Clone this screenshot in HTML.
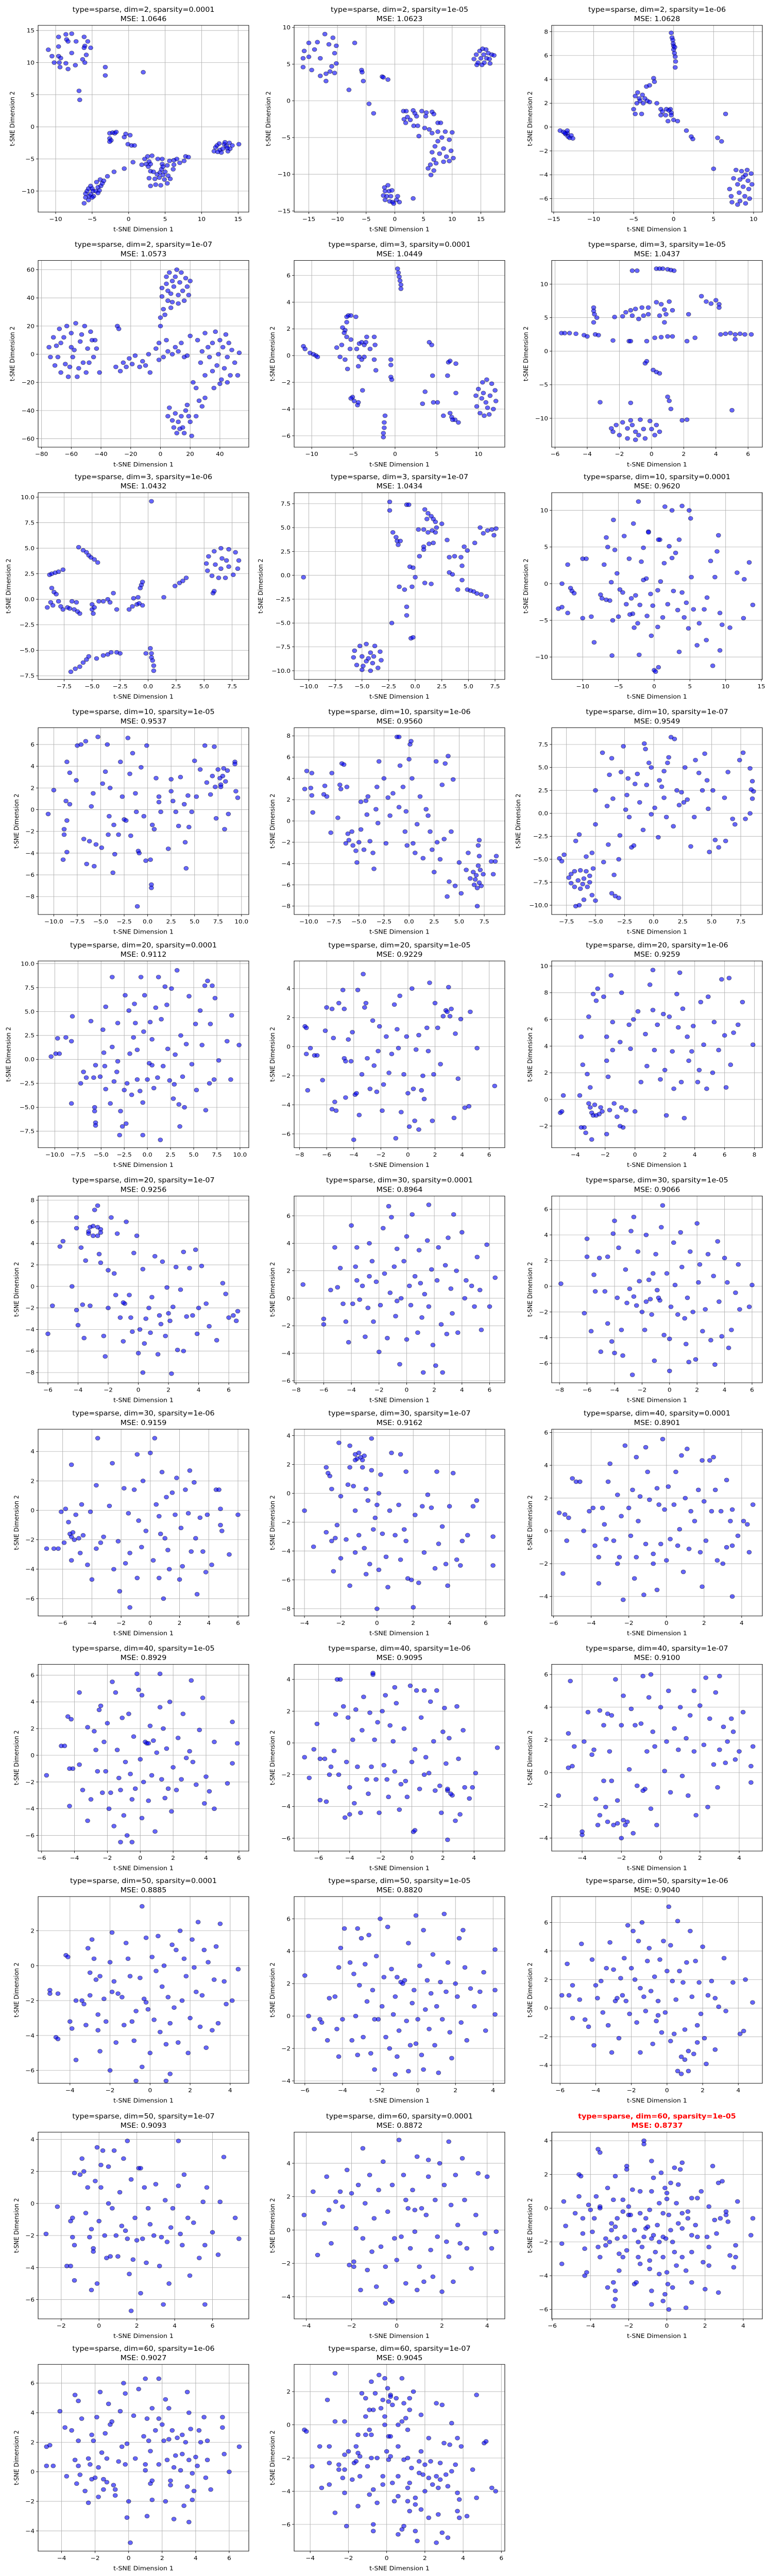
<!DOCTYPE html>
<html><head><meta charset="utf-8"><title>t-SNE sparse grid</title>
<style>
html,body{margin:0;padding:0;background:#fff;width:100%;height:100%;overflow:hidden;}
svg{display:block;position:fixed;left:0;top:0;width:100vw;height:100vh;font-family:"DejaVu Sans","Liberation Sans",sans-serif;}
</style></head>
<body>
<svg id="fig" xmlns="http://www.w3.org/2000/svg" viewBox="0 0 1489 5490" preserveAspectRatio="none">
<rect x="0" y="0" width="1489" height="5490" fill="#fff"/>
</svg>
<script>
const titles=["type=sparse, dim=2, sparsity=0.0001","type=sparse, dim=2, sparsity=1e-05","type=sparse, dim=2, sparsity=1e-06","type=sparse, dim=2, sparsity=1e-07","type=sparse, dim=3, sparsity=0.0001","type=sparse, dim=3, sparsity=1e-05","type=sparse, dim=3, sparsity=1e-06","type=sparse, dim=3, sparsity=1e-07","type=sparse, dim=10, sparsity=0.0001","type=sparse, dim=10, sparsity=1e-05","type=sparse, dim=10, sparsity=1e-06","type=sparse, dim=10, sparsity=1e-07","type=sparse, dim=20, sparsity=0.0001","type=sparse, dim=20, sparsity=1e-05","type=sparse, dim=20, sparsity=1e-06","type=sparse, dim=20, sparsity=1e-07","type=sparse, dim=30, sparsity=0.0001","type=sparse, dim=30, sparsity=1e-05","type=sparse, dim=30, sparsity=1e-06","type=sparse, dim=30, sparsity=1e-07","type=sparse, dim=40, sparsity=0.0001","type=sparse, dim=40, sparsity=1e-05","type=sparse, dim=40, sparsity=1e-06","type=sparse, dim=40, sparsity=1e-07","type=sparse, dim=50, sparsity=0.0001","type=sparse, dim=50, sparsity=1e-05","type=sparse, dim=50, sparsity=1e-06","type=sparse, dim=50, sparsity=1e-07","type=sparse, dim=60, sparsity=0.0001","type=sparse, dim=60, sparsity=1e-05","type=sparse, dim=60, sparsity=1e-06","type=sparse, dim=60, sparsity=1e-07"];
const mses=["1.0646","1.0623","1.0628","1.0573","1.0449","1.0437","1.0432","1.0434","0.9620","0.9537","0.9560","0.9549","0.9112","0.9229","0.9259","0.9256","0.8964","0.9066","0.9159","0.9162","0.8901","0.8929","0.9095","0.9100","0.8885","0.8820","0.9040","0.9093","0.8872","0.8737","0.9027","0.9045"];
const bestIndex=29;
const xDomains=[[-12.4,16.46],[-17.56,19.18],[-15.25,11.1],[-82.3,59.45],[-12.11,13.17],[-6.21,6.89],[-9.82,8.99],[-11.38,8.42],[-14.34,15.14],[-11.67,10.78],[-11.46,9.55],[-8.77,9.36],[-11.8,10.95],[-8.4,7.15],[-5.58,8.53],[-6.65,7.33],[-8.14,7.1],[-8.57,6.75],[-7.68,6.74],[-4.57,7.05],[-6.1,5.1],[-6.21,6.6],[-7.57,5.98],[-5.55,5.18],[-5.59,4.93],[-6.57,4.62],[-6.47,5.35],[-3.22,7.92],[-4.54,4.78],[-6.03,5.0],[-5.4,7.17],[-4.84,6.18]];
const yDomains=[[-13.27,15.8],[-15.16,10.29],[-7.13,8.53],[-66,66.6],[-6.85,7.12],[-14.3,13.53],[-7.85,10.44],[-10.91,8.66],[-13.06,12.41],[-9.65,7.54],[-8.79,8.76],[-11.01,9.32],[-9.22,10.28],[-6.95,5.9],[-3.62,10.38],[-8.95,8.39],[-6.15,7.44],[-7.52,7.03],[-7.18,5.51],[-8.5,4.44],[-5.19,6.2],[-7.17,6.81],[-6.81,4.95],[-4.79,6.62],[-6.74,3.96],[-4.15,7.37],[-5.26,7.81],[-7.2,4.45],[-5.33,5.87],[-6.56,4.51],[-5.37,7.27],[-7.61,3.64]];
const xTickSteps=[5,5,5,20,5,2,2.5,2.5,5,2.5,2.5,2.5,2.5,2,2,2,2,2,2,2,2,2,2,2,2,2,2,2,2,2,2,2];
const yTickSteps=[5,5,2,20,2,5,2.5,2.5,5,2,2,2.5,2.5,2,2,2,2,2,2,2,2,2,2,2,2,2,2,2,2,2,2,2];

const pts1=[[-11,12],[-10.5,11],[-10.2,10],[-9.6,14],[-9.6,12.5],[-9.6,11],[-9.5,10],[-9.3,10.7],[-9.4,9.3],[-8.6,14.4],[-8.5,13.6],[-8.3,13.3],[-8.6,9.9],[-8.3,9],[-7.8,14.5],[-7.8,11.5],[-7.2,13.3],[-7.3,9.6],[-6.1,14],[-6,12.6],[-6.1,12.3],[-5.6,13.3],[-5.2,12.3],[-5.8,11.2],[-6.3,10.5],[-6,10],[-3.2,9.3],[-3.2,8],[2,8.5],[-6.8,5.6],[-6.7,4.2],[-2.6,-1],[-2.2,-0.9],[-1.9,-1],[-1.7,-0.8],[-2.6,-1.8],[-2.4,-2.1],[-2.6,-2.3],[-0.6,-1.6],[-0.4,-1.1],[0.2,-1.3],[-0.1,-2.7],[0.4,-2.9],[0.8,-2.9],[11.7,-3.8],[11.9,-3.2],[12.1,-2.9],[12.4,-2.6],[12.5,-3.6],[12.7,-4],[12.9,-3.4],[13.1,-2.7],[13.2,-2.4],[13.4,-3],[13.6,-3.8],[13.8,-2.5],[13.9,-3.4],[14.2,-2.9],[15.1,-2.7],[12.2,-3.9],[13.5,-3.3],[1.8,-5.9],[2.2,-5],[2.6,-4.6],[3.2,-4.5],[2.4,-5.8],[2.7,-6.2],[2.8,-5.4],[3,-5.8],[0.6,-5.5],[3,-6.9],[3.4,-7],[3.9,-7.4],[4.3,-7.1],[4.5,-6.6],[4.6,-5.8],[4.7,-6.2],[4.7,-7.5],[5,-7],[4.9,-8.2],[5.4,-7.6],[5.7,-8.1],[5.3,-8.8],[3,-9.2],[3.7,-9],[4.4,-9.1],[2.8,-8],[3.6,-8.1],[4.2,-7.9],[4,-5],[4.6,-5],[5.3,-6],[5.6,-5.3],[6.2,-5.2],[6.2,-5.9],[6.1,-6.6],[6.6,-5],[7,-5.6],[7.6,-5.3],[7.8,-4.6],[8.2,-4.7],[-0.6,-6.5],[-2,-7],[-2.9,-7.7],[-6.1,-11.9],[-5.9,-11],[-5.5,-11.4],[-5.4,-10.8],[-5.9,-10.4],[-5.7,-10],[-5.5,-9.6],[-5.2,-9.2],[-5,-9.6],[-4.9,-10],[-5.2,-10.5],[-4.8,-10.8],[-4.5,-10],[-4.4,-8.6],[-4.2,-9.4],[-4,-9.9],[-3.9,-8.2],[-3.8,-9.2],[-3.6,-8.8],[-3.4,-8.4],[-5,-11],[-4.2,-10.3]];
const pts2=[[-16,5.8],[-15.8,6.8],[-16,4.6],[-15,7.9],[-15,6],[-14.5,4.2],[-14,7],[-13.5,8],[-13,5.8],[-13,3.4],[-12.2,9.1],[-12,3.7],[-12,2.7],[-11.5,7.7],[-11.3,4],[-11,4.7],[-10.8,8.6],[-10.5,6.5],[-10.5,3.8],[-10.2,7.5],[-10.2,5.1],[-7,7.9],[-5.8,4.2],[-5.7,3.9],[-5.5,2.7],[-8,1.5],[-2.2,3.3],[-2,3.2],[-1.2,2.9],[-4.5,-0.4],[-3.7,-1.7],[13.8,5.7],[14.2,6.3],[14.5,5.2],[14.8,6.8],[15,5.8],[15.3,7.1],[15.5,6.3],[15.6,5.2],[15.9,7],[16,5.8],[16.3,6.5],[16.6,5.1],[16.9,6.3],[17.3,6.2],[15.2,4.9],[16.5,5.7],[14.3,4.9],[1.5,-1.4],[2,-1.4],[1.6,-2.5],[2.2,-2.2],[1.9,-3],[2.7,-2.6],[3.2,-1.3],[3.5,-1.7],[3.8,-2.1],[3.3,-3.4],[4,-3.4],[4.2,-4.8],[4.7,-1.4],[5.5,-1.6],[5.4,-2.1],[6.5,-1.5],[6.8,-1.8],[7.5,-3],[8,-3],[5.2,-3.7],[6,-3.9],[6.5,-4.4],[7.5,-4.2],[8.8,-4.2],[10,-4.3],[8.2,-5],[9.5,-5.3],[7.5,-5.5],[7,-6.2],[8.5,-6.5],[9.8,-6.8],[6.5,-7],[7.8,-7.2],[9,-7.6],[10.2,-7.8],[6.8,-8],[6.2,-8.7],[7.2,-8.5],[8.5,-8.3],[9.5,-8.2],[5.8,-9.2],[6.8,-9.5],[6.3,-10.1],[-1.8,-11.8],[-1.2,-11.5],[-1.7,-12.3],[-1,-12.3],[-0.5,-12.2],[-2,-12.9],[-1.4,-13],[-0.7,-13],[-1.7,-13.5],[-0.9,-13.7],[-0.4,-13.8],[0.3,-13.5],[0.8,-13.8],[-0.2,-14],[0.5,-13],[3.2,-13.3]];
const pts3=[[-0.3,7.9],[-0.2,7.5],[-0.1,7.3],[-0.05,7],[0,6.8],[0,6.5],[0.1,6.2],[0.2,5.9],[0.25,5.5],[0.2,5],[0.15,6.7],[-14.2,-0.3],[-13.8,-0.4],[-13.5,-0.6],[-13.3,-0.5],[-13.2,-0.8],[-13,-0.9],[-12.8,-0.7],[-12.6,-0.95],[-13.6,-0.5],[-13.3,-0.3],[-4.8,1.1],[-5,1.5],[-4.8,2.6],[-4.5,2.9],[-4.3,2.4],[-4.6,2],[-4.2,2.2],[-3.8,2],[-3.9,2.7],[-3.6,2.4],[-3.4,3.4],[-3,3.5],[-2.5,4.1],[-2.4,3.8],[-3.3,2.2],[-3,2.1],[-4,1.1],[-2.1,2],[-1.6,1.5],[-1.4,1.3],[-0.9,1.5],[-0.4,1.5],[-0.3,1.2],[-0.6,1.4],[-1.6,1],[-1,1],[-0.3,1],[0,0.6],[-0.7,0.5],[0.5,0.5],[1.6,-0.3],[2.2,-0.8],[2.4,-1],[5.5,-0.9],[6,-1.2],[6.5,1.1],[5,-3.5],[7,-5.2],[7.2,-5.8],[7.5,-4.3],[7.8,-3.6],[8,-4.8],[8.2,-5.5],[8.3,-6.2],[8.5,-3.7],[8.7,-4.2],[8.7,-5],[8.9,-5.8],[9,-6.4],[9.2,-3.6],[9.3,-4.5],[9.4,-5.2],[9.5,-6],[9.7,-3.9],[9.8,-4.8],[7.3,-6.3],[8,-6.5],[8.3,-4.4],[9,-4]];
const pts4=[[-75,5],[-74,-2],[-72,12],[-71,-8],[-70,6],[-69,-2],[-68,18],[-67,-13],[-65,12],[-64,-7],[-63,20],[-62,-16],[-61,-9],[-60,15],[-59,-2],[-58,3],[-57,22],[-56,-16],[-55,-10],[-54,9],[-53,14],[-52,-6],[-51,20],[-50,-13],[-49,4],[-48,-6],[-47,16],[-46,10],[-45,-2],[-44,10],[-43,4],[-41,-13],[-67,8],[-60,5],[-30,-9],[-29,20],[-28,18],[-27,-12],[-25,-6],[-23,-9],[-21,-3],[-19,-7],[-17,-1],[-14,-9],[-12,-5],[-10,-8],[-8,0],[-7,-13],[0,20],[0,26],[1,47],[1,41],[2,32],[3,28],[4,55],[4,50],[5,38],[5,45],[6,58],[7,33],[7,43],[8,52],[8,37],[9,48],[10,55],[11,60],[12,42],[12,36],[13,51],[14,58],[15,45],[16,38],[17,54],[18,48],[19,42],[20,52],[-1,8],[-3,4],[20,13],[25,10],[27,-6],[30,15],[32,5],[33,-2],[35,8],[35,-12],[37,16],[38,-8],[39,0],[40,10],[41,-18],[42,5],[43,-10],[44,14],[45,-2],[46,8],[47,-15],[48,3],[50,-6],[52,-15],[53,1],[28,2],[30,-15],[36,-24],[40,-21],[45,-20],[24,-24],[22,-20],[26,-33],[28,-37],[30,-31],[24,-44],[10,-42],[12,-48],[14,-44],[15,-52],[17,-40],[19,-44],[20,-48],[21,-58],[8,-47],[9,-52],[11,-56],[13,-53],[16,-56],[18,-36],[5,-44],[6,-38],[2,-2],[5,2],[8,0],[10,5],[12,2],[16,-2],[18,-1],[14,8],[4,10],[-1,-4]];
const pts5=[[0.3,6.5],[0.4,6.2],[0.5,5.9],[0.6,5.6],[0.7,5.3],[0.7,5],[-11,0.7],[-10.8,0.5],[-10.2,0.2],[-9.8,0.1],[-9.5,0],[-9.3,-0.1],[-7,0.6],[-6.6,-0.1],[-6.4,0.8],[-6,-0.3],[-6.3,2.1],[-6,1.9],[-5.8,2.5],[-5.6,3],[-5.3,3],[-5.8,2.9],[-6.1,1.7],[-4.7,2.9],[-5.8,1.4],[-5.3,1.2],[-5.4,0.5],[-4.6,0.5],[-4.3,0.9],[-4.3,-0.1],[-4,1],[-3.7,0.8],[-3.4,1.4],[-3.5,1],[-3,0.5],[-2.5,1.4],[-2.4,0.8],[-2.5,-0.3],[-3.7,-0.1],[-4,-0.3],[-4.4,-0.8],[-2.3,-1.1],[-5.7,-1],[-5.1,-3.1],[-5.3,-3.2],[-4.9,-3.4],[-4.5,-3.7],[-4.4,-3.5],[-3.9,-2.6],[-0.5,-0.3],[-0.5,-0.7],[-0.5,-1.6],[-0.4,-1.8],[-1.2,-4.5],[-1.3,-5],[-1.3,-5.4],[-1.4,-5.8],[-1.4,-6.1],[4.1,1],[4.4,0.8],[3.6,-2.7],[4.5,-1.5],[4.6,-3.5],[3.3,-3.6],[5.1,-3.5],[6.4,-0.5],[6.6,-0.4],[7.3,-0.6],[6.3,-1.5],[7.3,-2.8],[5.8,-4.5],[6.6,-4.3],[6.8,-4.6],[7.2,-4.8],[7.6,-5],[6.9,-4.8],[9.7,-3],[9.8,-3.8],[10,-2.5],[10.2,-4.3],[10.5,-2],[10.7,-4.5],[11,-1.8],[11.3,-4.4],[11.6,-2.1],[11.8,-4],[12,-2.6],[12.1,-3.4],[10.4,-3.2],[10.9,-3.5],[11.4,-3],[11.1,-3.9],[10.6,-2.8]];
const pts6=[[-1.2,12],[-0.9,12],[0.3,12.3],[0.5,12.3],[0.7,12.3],[1,12.2],[1.2,12.1],[1.4,12],[-5.6,2.7],[-5.4,2.7],[-5.1,2.7],[-4.7,2.6],[-4.2,2.4],[-4,2.2],[-3.5,2.5],[-3.3,2.4],[-3.6,6.5],[-3.6,6],[-3.55,5.5],[-3.4,5],[-3.6,4.3],[-2.3,5.1],[-1.8,5.2],[-1.6,5.8],[-1.3,6.1],[-1,6.3],[-0.6,6.5],[-0.2,6.5],[0.3,7.3],[0.6,7],[0.8,6.2],[0.9,5.5],[1.3,6.1],[1.1,7.4],[0.5,5.3],[-0.5,5.3],[-0.2,5.5],[0.8,4.3],[-1.2,5.3],[-0.8,4.8],[2.3,5.5],[3.1,8.2],[3.4,7.4],[3.7,7.1],[4,7.6],[4.2,7],[4.2,6.5],[-2.4,1.6],[-1.4,1.5],[-1.3,1.5],[-0.3,1.5],[0.2,2],[0.6,2.1],[1,2.2],[1.3,2.2],[2.2,1.5],[2.7,2],[4.3,2.5],[4.6,2.6],[4.9,2.7],[5.2,2.5],[5.5,2.6],[5.8,2.5],[6.2,2.5],[5.2,1.8],[-0.4,-1.8],[-0.3,-1.5],[0.1,-2.8],[0.3,-3.1],[0.5,-3.3],[-3.2,-7.6],[-1.3,-7.7],[1,-6.8],[1.1,-7.4],[1.2,-8.6],[5,-8.8],[1.9,-10.3],[2.2,-10.2],[-2.5,-11.5],[-2.4,-12],[-2.2,-11],[-2,-12.5],[-1.8,-10.6],[-1.5,-13],[-1.3,-10.3],[-1,-13.2],[-0.7,-10.2],[-0.4,-13],[-0.1,-10.4],[0.2,-12.5],[0.3,-11],[0.5,-12],[-1.5,-11.5],[-1,-12],[-0.5,-11.6],[-1.2,-11],[-0.8,-12.5],[0,-11.6]];
const pts7=[[0.3,9.6],[-6.2,5.1],[-5.8,4.8],[-5.5,4.6],[-5.3,4.3],[-5.1,4.1],[-4.8,3.9],[-4.5,3.6],[-8.8,2.4],[-8.6,2.5],[-8.3,2.6],[-8,2.7],[-7.6,2.9],[-8.6,1.1],[-8.4,0.7],[-8.2,0.5],[-9,-0.8],[-8.7,-0.3],[-8.5,-0.6],[-8,-0.2],[-7.8,-0.7],[-7.6,-1],[-7.2,-0.8],[-6.8,-0.2],[-6.4,-0.3],[-7,-0.9],[-6.6,-1],[-6.3,-1.2],[-6.1,-1.4],[-5,-0.5],[-5,-1],[-4.9,-1.4],[-4.8,-0.8],[-4.4,-0.2],[-4,-0.2],[-3.6,0],[-3.4,-0.3],[-3.1,0.6],[-2.8,-1],[-1.7,-1],[-1.4,-0.7],[-1.3,0.1],[-1,-0.5],[-0.8,-0.4],[-0.9,0.2],[-0.5,-0.6],[-0.6,1.4],[-0.5,1.7],[-0.7,1.1],[1.4,0.2],[2.4,1.3],[2.8,1.6],[3.1,1.8],[3.4,2.1],[5.2,3.5],[5.3,2.8],[5.4,4.2],[5.7,2.3],[5.9,4.7],[6.3,2.1],[6.5,5],[6.9,2.1],[7.2,4.9],[7.6,2.4],[7.8,4.6],[8,3],[8.1,3.8],[6,3.4],[6.5,3],[7,3.8],[6.6,4],[7.2,3.2],[5.8,0.6],[5.9,0.8],[-6.9,-7.1],[-6.5,-6.8],[-6.1,-6.6],[-5.8,-6.2],[-5.5,-5.9],[-5.3,-5.6],[-4.6,-5.8],[-4,-5.5],[-3.6,-5.4],[-3.3,-5.2],[-2.8,-5.2],[-2.5,-5.3],[0.2,-4.8],[0.3,-5.3],[0.3,-5.7],[0.4,-6],[0.5,-6.5],[0.5,-7],[-0.2,-5.3]];
const pts8=[[-10.5,-0.2],[-2.4,7.7],[-2.4,6.8],[-0.8,7.4],[-0.6,7.4],[0.9,6.9],[1.2,6.5],[1.5,6.2],[1.7,5.9],[1.9,5.6],[1.1,5.9],[0.3,4.8],[0.8,4.8],[1.2,4.5],[1.6,4.7],[2,5],[1.9,4.5],[2.5,5.4],[3,3.7],[0.8,3],[1.3,3.3],[1.7,3.4],[0.8,2.7],[0.4,2],[3.2,1.9],[3.7,2],[4.3,1.9],[4.6,3],[4.9,2.6],[5.6,3.4],[6.1,5],[6.4,4.4],[6.8,4.7],[7.2,4.8],[7.6,4.9],[7.4,4.2],[-2.1,4.5],[-1.8,4],[-1.7,3.6],[-1.6,3.2],[-1.4,3.6],[-0.5,0.9],[-0.2,0.8],[0,-0.2],[-0.3,-1.2],[-1,-1.5],[0.9,-0.8],[1.5,-0.9],[-1.5,-1.2],[3.2,0.3],[3.5,0.1],[4.4,1],[4.4,-0.5],[4.9,-1.5],[5.2,-1.6],[5.5,-1.7],[5.8,-1.9],[6.2,-2],[6.7,-2.2],[4,-1.5],[-0.8,-3.3],[-0.8,-4.2],[-2.2,-5],[-0.4,-6.6],[-0.2,-6.5],[-5.8,-8.6],[-5.7,-7.9],[-5.5,-9.4],[-5.2,-7.4],[-5,-9.9],[-4.6,-7.2],[-4.2,-10],[-3.8,-7.4],[-3.5,-9.7],[-3.3,-8],[-3.2,-8.9],[-5,-8.5],[-4.6,-9],[-4.2,-8.1],[-4.4,-8.7],[-4,-9.2],[-4.9,-9.5],[-3.9,-8.5]];
const pts9=[[-12.9,0],[-13.4,-3.4],[-12.9,-3.2],[-12.1,2.6],[-11.7,-0.6],[-11.5,-1],[-11.2,-1.3],[-12.1,-4],[-10,3.4],[-9.5,3.4],[-10,-4.7],[-8.8,-4.5],[-8.4,-8],[-7.5,-1.5],[-7.3,-2],[-6.7,-2.2],[-7,2.6],[-6.7,6.3],[-6.5,5],[-6,0.2],[-6.2,-2.3],[-5.8,-5],[-5.9,-9.8],[-5.7,8.7],[-5.5,4.6],[-5.2,1.4],[-5,-4.5],[-4.8,-0.8],[-4.4,-1.2],[-4.2,6.5],[-3.9,-2.8],[-3.5,3.4],[-3.2,-2],[-3,-4.1],[-2.9,8.2],[-2.8,-6],[-2.6,-1.6],[-2.3,-5.4],[-2.2,11.2],[-2.1,-9.7],[-2,-2.9],[-1.8,3],[-1.5,4.9],[-1.1,0.7],[-1,-4.4],[-0.8,7.1],[-0.5,-1.4],[-0.4,-7.1],[0,-11.8],[0.2,-12],[0.5,-0.9],[0.5,-5.9],[0.6,-11.4],[0.8,6],[0.9,0.3],[1.2,-4.6],[1.4,2.8],[1.9,-2.8],[2.1,5.1],[2.5,3.5],[2.7,-1],[3,4.2],[3.3,-3.6],[3.5,-9.3],[3.9,-1.2],[4.2,-4.6],[4.5,-2.6],[4.8,-6.1],[5.1,8.9],[5.2,0.9],[5.5,-3.5],[6,-8.4],[6.3,-5.4],[7,-3.5],[7.4,-1.9],[7.3,-7.7],[7.9,3.1],[8.5,0.9],[8.8,4.4],[9,6.6],[9.2,-4],[9.2,-9.1],[9.5,-5.6],[10.6,-6],[11.6,1.5],[12.6,0.6],[13.3,2.9],[13.8,-2.9],[12.5,-4.7],[8.2,-11.2],[1.5,10.5],[2.5,10],[3.9,10.6],[4.9,10],[0.6,6],[-0.8,7],[3.5,6],[-1.5,0.5],[-3.4,-4.2],[-0.2,-3]];
const pts10=[[-10.6,-0.4],[-10,1.8],[-8.6,4.4],[-8.3,3.4],[-8.7,0.8],[-8.3,0.5],[-8.6,-1],[-8.9,-2.3],[-8.9,-1.8],[-8.6,-3.9],[-9,-4.6],[-7.6,2.7],[-7.5,5.9],[-7.1,6],[-6.6,6.3],[-6.8,-2.7],[-6.5,-5],[-6.2,-2.9],[-6,0.3],[-5.8,1.5],[-5.7,-5.2],[-5.5,-3.2],[-5.3,6.7],[-4.9,-3.5],[-4.8,2.4],[-4.5,3.5],[-4.2,-2.3],[-4.3,6],[-4.1,-0.6],[-4,2],[-3.7,-5.8],[-3.5,-4.1],[-3.6,-1.4],[-3.1,-2.3],[-2.9,4.4],[-2.7,1.2],[-2.5,-0.9],[-2.3,-1],[-2.1,6.6],[-1.9,3.3],[-1.8,-2.4],[-1.6,5.2],[-1.3,1.5],[-1.2,-0.2],[-1.1,-8.9],[-1,-3.8],[-0.7,3.9],[-0.4,-0.6],[-0.1,5.9],[-0.2,-4.7],[0.3,-4.6],[0.4,-6.9],[0.4,-7.2],[0.5,-1.4],[0.7,-1.8],[0.9,2.9],[1.2,1.2],[1.4,-0.2],[2.2,-3.6],[2.5,2.8],[2.5,1.7],[3,-0.2],[3.5,3],[3.3,-1.5],[3.9,0.5],[4,-3],[4.1,-5.4],[4.3,1.3],[4.4,-1.6],[4.7,-0.2],[5,4.5],[5.2,1.2],[5.6,3.7],[6.1,5.9],[6.3,2.5],[6.7,1.4],[6.9,3.1],[7.1,5.8],[7.2,2.1],[7.3,-0.8],[7.5,3.7],[7.8,2.3],[8,3.1],[8.3,2.6],[8.5,3.6],[8.6,-0.4],[8.2,-1.8],[9.3,4.4],[9.4,1.7],[9.6,1.1],[9.3,4.2],[7.7,2.9],[8.1,3.8],[7.8,2.1],[2.7,0.8],[-0.9,-4],[1.2,0.7]];
const pts11=[[-10.2,4.7],[-9.7,4.5],[-10.4,3],[-9.8,3.1],[-9.7,2.4],[-9.6,0.8],[-8.4,3.3],[-8.5,2.5],[-8.2,2.3],[-7.7,4.5],[-7.8,-1.1],[-7.1,0.3],[-6.9,3.4],[-6.7,5.4],[-6.5,5.3],[-6.8,3],[-6.2,3.2],[-6.1,-1.2],[-6.3,-2.1],[-6,-1.8],[-5.7,-1],[-5.6,-2.3],[-5.3,-2.8],[-5.2,-3.9],[-5,-2],[-4.8,-0.8],[-4.5,-2.7],[-4.2,0.6],[-4.8,1.8],[-4.3,1.9],[-4.1,2.3],[-3.9,-1.9],[-3.6,-3],[-3.5,-4.5],[-3.3,1.1],[-3.2,3.2],[-3.1,-0.2],[-3,5.6],[-2.5,4],[-2.3,-2.1],[-2.1,2.2],[-1.9,0.5],[-1.6,2.6],[-1.2,7.9],[-1,7.9],[-1,1.3],[-0.9,5.2],[-0.6,3.2],[-0.4,-1],[-0.3,0.9],[-0.2,-2.3],[0,5.8],[0.1,7.2],[0.2,7.5],[0.3,4],[0.4,-2.1],[0.6,-3],[0.8,-0.3],[1.1,2.3],[1.4,-3.5],[1.7,1.1],[1.9,0.5],[2.1,-1],[2.3,-2.7],[2.5,-4.8],[2.7,5.6],[2.8,-2],[3.1,-3.6],[3.3,3.4],[3.5,-1.7],[3.6,5.4],[3.9,6.1],[3.8,-7.1],[4,-5.7],[4.2,-1],[4.4,3.9],[4.6,-6.1],[5,-3.9],[5.2,-6.8],[5.7,-4.6],[6.1,-5.4],[6.4,-4.8],[6.5,-6],[6.7,-5.1],[6.9,-4.2],[7,-5.8],[7.2,-6.1],[7.4,-5],[7.1,-4.6],[6.8,-6.3],[7,-1.8],[6.9,-2.3],[7,-3.3],[6.8,-8],[8.2,-3.8],[8.4,-5],[8.7,-3.3],[8.6,-3.8],[5.9,-3],[6.6,-5.5]];
const pts12=[[-7.3,-7],[-7.1,-6.6],[-7.1,-7.6],[-6.8,-6.3],[-6.8,-8],[-6.3,-6.2],[-6.3,-8.2],[-5.8,-6.3],[-5.7,-8],[-5.5,-6.8],[-5.5,-7.5],[-6.5,-7.3],[-6,-7.1],[-6.1,-7.7],[-8.1,-4.9],[-7.7,-4.5],[-7.9,-5.2],[-6.7,-10.1],[-6.4,-10],[-6,-9.4],[-5.3,-8.9],[-5,-9.5],[-5.2,-6],[-5.8,-4.7],[-6.4,-2.3],[-6.7,-3],[-5.3,-4.3],[-5,-1.2],[-5,2.5],[-4.3,-5.3],[-4.4,6.6],[-3.9,-3.4],[-4,0.8],[-3.8,4.2],[-3.6,6],[-3.5,1.6],[-3.4,-6.7],[-3.6,-8.7],[-3.3,-9],[-3,-9.2],[-3,-5],[-2.9,-2.4],[-2.8,4.5],[-2.6,7.3],[-2.4,0.4],[-2.3,2],[-2.2,3.8],[-1.9,-3.7],[-1.7,-3.5],[-1.6,3.2],[-1.4,4.3],[-1.2,1.2],[-0.9,-1.8],[-0.8,7.6],[-0.7,7],[-0.6,3.1],[-0.4,5.5],[-0.2,-0.1],[-0.2,5],[0.1,0.6],[0.4,-2.6],[0.5,3.6],[0.7,2.9],[0.9,4.6],[1.1,-0.4],[1.3,6.1],[1.5,8.3],[1.8,8.1],[1.7,-1.4],[2,2.5],[2.2,0.9],[2.4,2.3],[2.6,1.2],[2.7,5],[2.9,1.5],[3.2,-3.6],[3.5,-0.4],[3.9,4.4],[4.2,2.5],[4.4,6.5],[4.6,3.6],[4.7,0.5],[4.8,-4.2],[5.1,2.5],[5.3,-2.9],[5.6,-3.7],[6.1,1.7],[6.2,-3],[6.4,4.5],[6.8,-0.6],[7,-1.2],[7.4,5.8],[7.7,6.6],[7.9,-0.6],[8.3,0],[8.3,4.9],[8.5,3.5],[8.5,1.6],[8.6,2.4],[8.4,2.6],[-2.1,-0.4],[1.2,5.5],[3.6,5.8],[0.9,1.7]];
const pts13=[[-10.4,0.3],[-9.9,0.6],[-9.5,0.6],[-9.7,2.2],[-8.8,2.3],[-8.2,1.9],[-8.2,-4.6],[-8.1,4.5],[-7.2,-2.5],[-6.9,-1.3],[-6.6,-1.9],[-6.1,4],[-5.8,-1.9],[-5.6,-0.6],[-5.7,-5],[-5.7,-5.4],[-5.6,-6.6],[-5.6,-6.9],[-5.1,-1.8],[-4.8,3.1],[-4.7,0.7],[-4.6,-0.7],[-4.5,-3.1],[-4.5,5.5],[-4,-4.6],[-3.8,8.6],[-3.8,1.3],[-3.6,-2.3],[-3.3,-1.3],[-3.2,-0.2],[-3.2,3.8],[-3,-7.9],[-2.9,-5.4],[-2.7,-7],[-2.5,-3.2],[-2.3,-6.7],[-2.4,6.7],[-2.2,-2.5],[-2,5.1],[-1.9,0.6],[-1.7,-3.7],[-1.4,5.8],[-1.3,3.8],[-1.1,-2.1],[-1.1,1],[-0.8,-3.3],[-0.7,8.6],[-0.5,-4.5],[-0.5,-7.9],[-0.4,2.9],[-0.3,6.7],[0,-2.1],[0.2,-0.4],[0.3,3.9],[0.5,2.1],[0.7,-3],[0.9,5.4],[1.1,-1.9],[1.2,8.6],[1.4,-8.4],[1.5,4.2],[1.7,-0.7],[1.9,7.6],[2.1,5.7],[2.2,1.1],[2.4,-2.2],[2.6,7.4],[2.8,-4.1],[3,0.5],[3.2,9.3],[3.4,-4.7],[3.5,-7],[3.6,2.5],[3.8,-1.8],[4,-5],[4.2,1.6],[4.5,6.6],[4.8,-0.5],[5.2,3.7],[5.3,-3.2],[5.7,5.1],[5.9,1.5],[6.2,7.7],[6.3,-5.3],[6.5,8.2],[6.7,-2.5],[6.8,3.7],[7,7.7],[7.2,-2.1],[7.3,6.4],[7.7,-0.1],[8.6,1.9],[9,-2.1],[9.1,4.6],[9.9,1.5],[0.5,-0.6],[-1.5,2.3],[2.9,-2.6]];
const pts14=[[-7.6,1.4],[-7.5,1.3],[-7.5,-0.5],[-7.2,-0.1],[-7.4,-3],[-6.9,-0.6],[-6.7,-0.6],[-6.3,-2.3],[-6.1,1.1],[-6,2.7],[-5.5,0.6],[-5.6,2.6],[-5.6,-4.3],[-5.4,-3.8],[-5.3,-4.4],[-5.1,3],[-4.8,3.9],[-4.7,2.6],[-4.6,-3.5],[-4.7,-0.8],[-4.6,-1],[-4.4,0.5],[-4.2,-1],[-4.1,1],[-4,-6.4],[-3.9,-3.3],[-3.8,-3.2],[-3.7,3.9],[-3.6,-4.7],[-3.4,-1.9],[-3.3,5],[-3.2,2.7],[-3.1,3],[-3,-0.8],[-2.8,-2.9],[-2.5,-1.3],[-2.3,-3.1],[-2.2,-0.3],[-2.1,1.4],[-1.9,-4.4],[-1.8,-2.6],[-1.6,0.7],[-1.4,-1.8],[-1.2,-0.5],[-1,2.9],[-0.9,-6.3],[-0.8,1.2],[-0.7,-0.1],[-0.6,3.5],[-0.5,-4.5],[-0.3,-1.9],[-0.1,0.7],[0,-3.2],[0.1,-5.5],[0.3,4],[0.4,-2.9],[0.5,-5.1],[0.6,-0.2],[0.8,-5.7],[1,-3],[1.1,-2],[1.2,-3.6],[1.4,1.3],[1.5,-0.3],[1.6,4.4],[1.8,-5.1],[1.9,-1.9],[2,3],[2.2,1.3],[2.4,-1.2],[2.6,2.1],[2.8,2.5],[3,4.1],[3.2,2.6],[3.4,-4.9],[3.5,0.9],[3.7,-2.2],[3.9,1.9],[4.2,-4.2],[4.5,-4.1],[4.6,2.4],[5.1,-0.1],[6.4,-2.7],[2.9,2.4],[3.1,2.1],[0.8,0.8],[-2.6,1.8]];
const pts15=[[-3,-0.6],[-2.9,-1],[-2.8,-1.2],[-2.6,-1.2],[-2.4,-1.1],[-2.2,-0.9],[-2.7,-0.4],[-2.3,-0.6],[-5,-1],[-4.8,0.3],[-3.6,4.7],[-3.5,2.6],[-3.4,-2.1],[-3.3,-2.5],[-3.2,1.9],[-3.1,-0.3],[-3,0.9],[-3.1,6.2],[-2.8,7.9],[-2.6,7.4],[-2.5,8.3],[-2.1,7.7],[-1.9,4.7],[-1.9,2.9],[-1.8,1.7],[-1.9,-2.6],[-1.7,-0.8],[-1.6,9.3],[-1.5,5.8],[-1.5,3.7],[-1.4,-0.3],[-1.2,-1.3],[-1,4.3],[-0.9,8],[-0.8,-2.1],[-0.6,-0.8],[-0.4,5.6],[-0.3,3.8],[-0.1,6],[0,-0.9],[0.2,6.6],[0.4,1.3],[0.7,4.9],[0.8,2.5],[1,8.6],[1.2,6.7],[1.2,9.7],[1.3,3.7],[1.5,5.6],[1.7,1.5],[1.9,6.4],[2,2.2],[2.1,-1.2],[2.3,6.2],[2.5,3.6],[2.6,0.8],[2.8,7.9],[2.9,5.4],[3,9.5],[3.1,1.3],[3.2,6.8],[3.3,-1.4],[3.5,4.7],[3.6,2.9],[3.8,3.6],[3.9,5.5],[4.2,1.3],[4.3,2.2],[4.4,7.3],[4.6,4.1],[4.8,0.8],[4.9,7.7],[5.2,2],[5.3,5.8],[5.6,3.7],[5.8,9],[6,4.8],[6.1,0.9],[6.3,9.1],[6.4,2.6],[6.6,5],[6.9,5.6],[7.2,7.3],[7.9,4.1],[-3.7,0.3],[-4.9,-0.9],[-0.9,-0.6],[-1,-2],[-2.9,-3],[-3.6,-2.1]];
const pts16=[[-3.3,5.1],[-3.2,5.5],[-3,5.6],[-2.7,5.5],[-2.5,5.3],[-2.5,5],[-2.7,4.7],[-3,4.7],[-3.3,4.9],[-6,-4.4],[-5.7,-1.8],[-5.2,3.7],[-5,4.2],[-4.4,0],[-4.1,-2.2],[-4,-3.6],[-4.1,5.4],[-4.1,6.4],[-3.8,3.6],[-3.7,-1.7],[-3.6,-4.8],[-3.5,2.4],[-3.2,-1.8],[-2.9,7.1],[-2.7,7.5],[-2.6,3],[-2.5,2.2],[-2.3,-4.6],[-2.2,-6.5],[-2,1.5],[-2,-2],[-1.8,6.4],[-1.6,1.2],[-1.5,-0.8],[-1.4,4.9],[-1.2,-2.9],[-1,-5.1],[-0.9,-1.6],[-0.8,6],[-0.6,-0.8],[-0.4,-4.2],[-0.3,3.1],[-0.1,4.7],[0,-6.2],[0.1,-4],[0.3,1.6],[0.4,-5.3],[0.5,-3],[0.7,-2],[0.8,-4.3],[0.9,-1],[1.1,2.8],[1.3,-6.3],[1.4,-2.7],[1.6,2.3],[1.8,-4.6],[1.9,-0.1],[2.1,-3.2],[2.2,-8.1],[2.3,-1.9],[2.5,1.8],[2.6,-5.9],[2.8,-0.3],[3,3.2],[3,-6],[3.2,-2.8],[3.4,1.7],[3.6,-2.7],[3.8,3.4],[3.9,-4.4],[4,-2],[4.2,1.9],[4.5,-1.6],[4.7,-3.7],[5.2,-5],[5.6,0.3],[5.8,-0.7],[6,-2.9],[6.3,-2.7],[6.6,-2.3],[6.5,-3.2],[0.3,-8],[-1,-1.5],[2,-2.5],[1.5,-3.5],[-0.5,-2.9]];
const pts17=[[-7.5,1],[-6,-1.5],[-6,-1.9],[-5.5,0.6],[-5.2,3.7],[-5,0.8],[-4.8,2.2],[-4.6,-0.4],[-4.4,-1.7],[-4.2,-3.2],[-4,5.3],[-3.9,-0.4],[-3.7,2.3],[-3.6,1.3],[-3.6,3.7],[-3.4,-0.1],[-3.2,0.9],[-3,-2.8],[-2.8,-0.7],[-2.7,4],[-2.5,2.7],[-2.4,-1.7],[-2.2,1.2],[-2,-3.9],[-1.9,-0.5],[-1.7,5.1],[-1.6,1.8],[-1.4,-2.9],[-1.2,0.4],[-1.1,5.9],[-0.9,2.3],[-0.8,-1.3],[-0.7,3.6],[-0.5,-4.8],[-0.4,0],[-0.2,2.7],[0,4.5],[0,-3],[0.2,0.9],[0.3,-0.5],[0.4,6.1],[0.6,1.6],[0.8,-2.5],[0.9,3.5],[1.1,-1.4],[1.2,-5.4],[1.3,0.3],[1.5,4.2],[1.6,-0.6],[1.8,2.1],[1.9,-3.4],[2.1,-4.9],[2.2,1.3],[2.3,3.7],[2.5,-1.9],[2.6,-5.4],[2.8,2.4],[2.9,-2.6],[3,4.4],[3.2,0.7],[3.3,-1.1],[3.4,6.1],[3.6,2],[3.7,-2.5],[4,4.8],[4.2,0],[4.3,1.3],[4.7,0.9],[4.9,-0.6],[5.1,3],[5.3,0.6],[5.4,-2.3],[5.8,3.9],[6,-0.6],[6.4,1.5],[1.6,6.8],[-1.3,6.7],[-0.7,-0.2],[1,1.1],[-2.7,1.6]];
const pts18=[[-7.9,0.2],[-6.2,-2.1],[-6,2.3],[-6,3.7],[-5.7,-3.5],[-5.5,0.9],[-5.4,-0.4],[-5.1,2.2],[-5,-5.1],[-4.7,-0.4],[-4.5,2.3],[-4.5,-2.9],[-4.2,-4.3],[-4.1,4.1],[-4,5.1],[-4,-5.2],[-3.8,-0.9],[-3.7,3],[-3.5,-3.4],[-3.4,-5.4],[-3.2,1.3],[-3.1,-1.3],[-2.9,-0.2],[-2.8,4.3],[-2.6,-0.8],[-2.6,5.4],[-2.4,-1.5],[-2.3,2.7],[-2.2,0.4],[-2,-2],[-1.8,-3.4],[-1.7,4],[-1.5,0.5],[-1.3,-2.2],[-1.2,1],[-1.1,-5.8],[-1,2.5],[-0.9,-0.3],[-0.7,-1.1],[-0.6,4.6],[-0.5,6.3],[-0.4,-3.8],[-0.2,1],[0,-4.1],[0,-6.6],[0.1,-1.6],[0.3,3.4],[0.4,0.1],[0.6,-2.2],[0.8,4.2],[0.9,1.5],[1.1,-2.5],[1.3,-0.9],[1.4,-5.9],[1.5,2.7],[1.7,-2],[1.9,-5.7],[2,4.9],[2.1,0.3],[2.2,1.7],[2.4,-3.5],[2.6,-1.8],[2.8,2.5],[3,-4.2],[3.2,0.8],[3.3,-6.1],[3.5,3.5],[3.6,-1.2],[3.8,-3.9],[4,2.2],[4.2,0.3],[4.3,-4.8],[4.5,-3.4],[4.8,-0.5],[5,1.7],[5.1,-1.8],[5.8,-1.6],[6,0.1],[-2.7,-6.9],[-1.4,-1],[1.2,-4.5],[-0.8,-0.9],[-1.7,-1.2]];
const pts19=[[-7.1,-2.6],[-6.6,-2.6],[-6.3,-2.6],[-6.1,-0.1],[-5.8,0.1],[-5.9,-2.2],[-5.6,-0.8],[-5.5,-1.6],[-5.4,-1.8],[-5.3,-1.5],[-5.2,-2],[-5.1,-0.3],[-4.9,-1.9],[-5.4,3.1],[-5.4,-3.4],[-4.7,0.4],[-4.8,-2.9],[-4.6,-1.7],[-4.3,-3.7],[-4,-4.7],[-4.1,-0.1],[-3.7,1.7],[-3.7,-2.6],[-3.6,4.9],[-3.4,-2.2],[-3.2,-1.8],[-2.8,0.3],[-2.6,3.2],[-2.5,-4],[-2.2,-2.1],[-2.1,-5.5],[-1.8,1.5],[-1.7,-3.6],[-1.5,-0.2],[-1.4,-2.9],[-1.4,-6.6],[-1.1,1.4],[-0.9,3.8],[-0.9,-4.6],[-0.8,-0.7],[-0.6,-2.5],[-0.5,2],[-0.3,-1.4],[0,3.9],[0.2,-3.4],[0.3,4.9],[0.4,0.4],[0.6,-0.4],[0.6,-4.6],[0.7,-1.6],[0.8,2.6],[0.9,-6],[1,-1.9],[1.1,0.9],[1.2,-2.7],[1.3,-4],[1.5,1.2],[1.7,-0.3],[1.8,2.2],[2,-4.7],[2.1,-1.2],[2.2,-3.8],[2.4,1.4],[2.6,-0.2],[2.7,2.7],[2.8,-2.8],[3,1.9],[3.2,-5.7],[3.1,-1.9],[3.4,-0.5],[3.6,-2.8],[3.8,-4.2],[3.9,-0.3],[4.2,-3.7],[4.5,1.4],[4.8,0.1],[4.9,-1.4],[5.4,-3],[6,-0.3],[4.8,-1],[4.7,1.4]];
const pts20=[[-1.2,2.7],[-1.1,2.4],[-1,2.8],[-0.9,2.5],[-0.8,2.3],[-1.2,2.3],[-0.7,2.6],[-4,-1.2],[-3.5,-3.7],[-2.8,1.8],[-2.8,-2.7],[-2.7,1.4],[-2.6,1.2],[-2.5,-3.3],[-2.4,-5.4],[-2.3,-3.1],[-2.2,-2.2],[-2,-0.2],[-2,-4.5],[-1.7,-3.2],[-1.6,0.6],[-1.5,1.8],[-1.5,-6.4],[-1.3,0.5],[-1.2,-1.2],[-1.2,-4.1],[-1,-2.9],[-0.8,1.8],[-0.7,-3.8],[-0.6,-5.6],[-0.5,-0.5],[-0.4,-4.9],[-0.3,1.6],[-0.2,-2.5],[-0.1,-1.7],[0,-8],[0.1,-5.3],[0.2,1.3],[0.3,-2.8],[0.5,-4.4],[0.6,-6.5],[0.7,-1.2],[0.8,2.8],[1,-2.9],[1.2,-0.8],[1.3,-4.6],[1.5,-2.5],[1.6,-3.3],[1.7,-5.9],[1.9,-6],[2,-7.9],[2.1,-1.5],[2.3,-6.2],[2.5,-0.9],[2.6,-4.1],[2.8,-0.1],[3,-1],[3.2,-5.2],[3.4,-3.5],[3.6,-2.3],[3.8,-4.9],[3.9,-6.4],[4,-0.9],[4.2,1.4],[4.4,-4.6],[4.6,-5],[4.7,-3.3],[5,-2.9],[5.3,-0.9],[5.5,-0.5],[6.4,-3],[6.4,-5],[0.1,0],[1.6,1.5],[3.3,1.5],[-0.6,0.3],[1.3,2.7],[-2.1,3.5],[-0.3,3.8],[-1.5,3.3],[-2.5,0.3],[0,-0.8]];
const pts21=[[-5.7,1.1],[-5.4,1],[-5.3,-0.6],[-5.2,0.8],[-5.5,-2.6],[-5,3.2],[-4.8,3],[-4.6,3],[-4.4,0],[-4.1,1.2],[-3.9,1.4],[-3.8,-0.9],[-3.6,-1.6],[-3.6,-3.2],[-3.4,1.4],[-3.3,0.4],[-3.2,-0.5],[-3.1,3],[-3,4.1],[-2.8,-0.6],[-2.6,-2],[-2.6,2.2],[-2.5,-1.6],[-2.4,0.9],[-2.3,-4.2],[-2.2,5.2],[-2,1.4],[-1.9,-0.3],[-1.8,2.5],[-1.7,-2.9],[-1.6,-1.6],[-1.5,0.6],[-1.4,2.1],[-1.2,-3.9],[-1.1,-0.8],[-1.1,5.1],[-1,3.6],[-0.9,1.9],[-0.7,-1.4],[-0.7,-2],[-0.5,2.6],[-0.5,-3.6],[-0.4,1.6],[-0.3,-0.8],[-0.2,5.6],[-0.1,1.3],[0,-1.8],[0.1,2.7],[0.2,-0.5],[0.4,1.6],[0.5,3.6],[0.6,-0.9],[0.7,0.1],[0.8,4.6],[0.9,-2.5],[1,2],[1.2,-1.1],[1.3,1.2],[1.5,0.6],[1.7,2.5],[1.8,-1.3],[1.9,-3.4],[2,1.8],[2.1,-0.6],[2.3,4.3],[2.4,1.2],[2.6,2.5],[2.7,-1.8],[2.9,1.2],[3,-2],[3.2,-1],[3.4,0.6],[3.5,-0.9],[3.5,-4],[3.5,1.3],[3.8,-0.3],[4.1,0.6],[4.3,0.4],[4.4,-1.3],[4.6,1.6],[1.9,4.3],[1.1,5],[3.2,3.1],[-1.6,4.5],[2.5,4.5]];
const pts22=[[-5.7,-1.5],[-4.8,0.7],[-4.6,0.7],[-4.3,-1],[-4.4,2.9],[-4.2,2.7],[-4.3,-3.8],[-3.7,4.7],[-3.7,-0.7],[-3.5,-2.6],[-3.2,2.1],[-3.2,-4.9],[-2.8,1.8],[-2.7,0.4],[-2.6,-1.2],[-2.5,3.4],[-2.4,3.7],[-2.3,-2.8],[-2.2,1],[-2.1,-1.2],[-2,2.4],[-1.9,-4],[-1.8,-2.8],[-1.7,5.5],[-1.6,-5.3],[-1.5,4.7],[-1.4,0.4],[-1.3,-1.7],[-1.2,-2.6],[-1.1,2.8],[-1,-4.5],[-0.9,-0.5],[-0.8,-6],[-0.7,3.1],[-0.6,-1.4],[-0.5,-3.3],[-0.4,1.4],[-0.3,-2.5],[-0.2,6.1],[-0.1,4.9],[0,-0.3],[0.1,-4.7],[0.2,-2],[0.3,1],[0.4,0.9],[0.5,-3.4],[0.6,2.2],[0.7,-1.5],[0.8,1.1],[0.9,-5.7],[1,0.2],[1.2,3.6],[1.3,-1.8],[1.2,6.1],[1.4,2],[1.5,-3.2],[1.6,0.5],[1.7,-2.5],[1.8,4],[1.9,-4.2],[2,-0.9],[2.2,-2.6],[2.3,1.3],[2.5,-1.8],[2.6,3.1],[2.8,-0.2],[3,0.3],[3.1,5.6],[3.2,-0.5],[3.4,-2.2],[3.6,1.9],[3.8,4.3],[3.9,-3.6],[4,-1.6],[4.2,-2.7],[4.5,1],[4.5,-4],[5.3,-2.1],[5.6,-0.6],[5.9,0.9],[5.6,2.5],[-4.1,-1],[-1.2,-6.5],[-0.5,-6.5],[0.1,4.5],[0.5,0.9],[-3,-3.3]];
const pts23=[[-6.9,-0.9],[-6.6,-2.2],[-6.3,-0.4],[-6.1,1.2],[-5.9,-1],[-5.9,-3.6],[-5.6,-1],[-5.5,-3.7],[-5.3,-2],[-5.2,-1.5],[-5,-0.5],[-4.9,1.8],[-4.7,-2],[-4.6,4],[-4.4,2.3],[-4.3,-4.7],[-4.2,-1.2],[-4.1,1.6],[-4,-2.8],[-4,-4.5],[-3.8,0.2],[-3.7,-3.8],[-3.6,2.1],[-3.5,-1.5],[-3.3,-4.4],[-3.2,0.8],[-3.1,2.9],[-2.9,-2.3],[-2.8,-3.2],[-2.7,1.9],[-2.6,-1.5],[-2.5,4.3],[-2.4,0.2],[-2.3,-2.3],[-2.2,1.3],[-2.1,-4.4],[-1.9,2],[-1.8,-1.4],[-1.7,3],[-1.6,-2.3],[-1.5,-3.4],[-1.4,1.1],[-1.2,0.1],[-1.1,-1.8],[-1,2.5],[-0.8,-4.2],[-0.7,-2.6],[-0.5,0.9],[-0.4,-2.4],[-0.3,-3.4],[-0.1,3.6],[0,-1.2],[0.1,-5.6],[0.2,-0.4],[0.3,3.3],[0.5,-2.9],[0.6,1.6],[0.8,-2],[0.9,-0.9],[1.1,-1.9],[1.2,2.6],[1.4,0.1],[1.5,-3],[1.6,3.3],[1.8,-2.7],[1.9,-4.4],[2,0.7],[2.1,2.2],[2.2,-1.3],[2.3,-3],[2.3,-6.1],[2.4,0.3],[2.6,-3.3],[2.8,-4.9],[2.9,2.3],[3,-1],[3.3,0.8],[3.4,-2.8],[3.7,-3.5],[3.9,-2.8],[4.1,-1.9],[-2.5,4.4],[-4.8,4],[2.3,-2.9],[2.5,-3.2],[0.2,-5.5],[3.1,-4.5],[5.5,-0.3],[-1.1,3.5],[0.8,3.3]];
const pts24=[[-5.2,-1.4],[-4.7,2.4],[-4.7,0.3],[-4.6,5.6],[-4.5,0.4],[-4.4,1.6],[-4,-3.8],[-4,-3.6],[-3.9,1.9],[-3.7,3.7],[-3.5,1.1],[-3.4,1.4],[-3.3,-1.6],[-3.2,-3.2],[-3.1,-2.6],[-3.1,3.8],[-2.9,2.9],[-2.9,-0.5],[-2.8,-2.1],[-2.7,-3],[-2.7,3.6],[-2.6,1.3],[-2.5,-0.5],[-2.5,3.5],[-2.4,-3.2],[-2.3,5.7],[-2.2,-1.7],[-2.2,-3.1],[-2,2.9],[-1.9,-2.9],[-1.9,4.7],[-1.7,-3],[-1.6,0.2],[-1.5,3.9],[-1.4,-3.7],[-1.3,2.9],[-1.2,-0.8],[-1,3],[-0.9,5.9],[-0.8,-1],[-0.7,1.3],[-0.6,4.6],[-0.5,-2.2],[-0.4,2.5],[-0.3,1.6],[-0.2,-3.2],[0,4],[0.2,0.1],[0.3,1.9],[0.4,5],[0.5,-1.2],[0.7,2.7],[0.9,1.4],[1,4],[1.1,-0.2],[1.3,2.1],[1.4,-1.4],[1.5,3.5],[1.7,1.3],[1.8,-2.6],[2,4.1],[2.2,1.7],[2.4,-2.1],[2.5,3.3],[2.7,0.5],[2.9,-0.9],[3,1.4],[3.2,2.8],[3.3,0.6],[3.4,1.9],[3.6,3.3],[3.7,2.5],[3.8,0.8],[4,1.3],[4.2,3.7],[4.6,-0.6],[4.6,0.4],[4.7,1.6],[2.3,5.8],[3,5.9],[2.8,4.9],[-0.5,6],[1.7,5],[-1.8,-3.2],[-2,-4],[-0.9,-1.1]];
const pts25=[[-5,-1.4],[-5,-1.6],[-4.6,-1.6],[-4.7,-4.1],[-4.6,-4.2],[-4.2,0.6],[-4.1,0.5],[-4,-3.2],[-3.9,-3.6],[-3.7,-2],[-3.7,-5.4],[-3.4,-2],[-3.2,-3.4],[-3.1,1],[-3,-0.4],[-3,-1.7],[-2.9,1.5],[-2.8,0.4],[-2.7,-0.8],[-2.6,-2.8],[-2.6,-3.7],[-2.5,-4.9],[-2.5,-0.6],[-2.3,-1.9],[-2.2,-3.2],[-2,0.2],[-1.9,-1.5],[-2,-6],[-1.9,1.9],[-1.8,-0.9],[-1.7,-4.4],[-1.6,-1.6],[-1.4,-1.8],[-1.3,-3.4],[-1.2,1.3],[-1.1,0.4],[-1,-0.6],[-0.9,-3.2],[-0.8,-4.3],[-0.7,-2.6],[-0.5,-0.7],[-0.4,-5.8],[-0.4,3.4],[-0.3,-1.9],[-0.2,1.6],[-0.1,-2.5],[0,-5],[0.1,0.5],[0.2,-3.1],[0.3,-0.3],[0.4,1.7],[0.5,-3.8],[0.6,-1.2],[0.7,0],[0.8,-4.5],[0.9,-1.8],[1,-6.2],[1,-3.3],[1.1,1.2],[1.2,-2.4],[1.3,0.9],[1.4,-4.4],[1.5,2],[1.6,-2],[1.7,0.4],[1.8,-0.6],[1.9,-5],[2,-3],[2.1,1.5],[2.2,-0.1],[2.3,-1.5],[2.4,2.5],[2.5,-3.5],[2.6,-1.7],[2.7,0.9],[2.8,-4.7],[2.9,0.2],[3.1,-3.7],[3.2,-0.8],[3.3,1.1],[3.4,-3.3],[3.5,2.4],[3.7,-0.9],[3.8,-2.2],[4.1,-2],[4.4,-0.2],[-3.3,-2.2],[-0.2,-2.1],[-0.7,-6.6],[0.8,-6.6]];
const pts26=[[-6,2.5],[-5.8,0],[-5.5,-0.8],[-5.2,-0.2],[-5.1,-0.4],[-4.8,-1.5],[-4.7,1.1],[-4.4,1.2],[-4.3,-0.8],[-4.2,3],[-4.2,-2.5],[-4.1,4.2],[-4,-0.2],[-3.9,5.4],[-3.6,3.3],[-3.5,-1.5],[-3.4,2.6],[-3.3,0],[-3.2,5.4],[-3.1,1.9],[-3,4.8],[-2.9,-1.3],[-2.8,3.2],[-2.7,0.9],[-2.6,5],[-2.5,-2.3],[-2.4,1.6],[-2.3,-3.3],[-2.2,3.7],[-2.1,-0.2],[-2,6],[-1.9,0.6],[-1.8,2.4],[-1.7,-1.3],[-1.6,5.5],[-1.5,-2],[-1.4,2.9],[-1.3,0.1],[-1.2,1.2],[-1.1,-2.5],[-1.1,2.4],[-1,-0.9],[-0.9,2.1],[-0.8,2],[-0.7,2.2],[-0.6,-0.3],[-0.5,4.5],[-0.4,-1.8],[-0.3,0.8],[-0.2,1.6],[-0.1,6.2],[0,-0.2],[0.1,3.1],[0.2,-2.4],[0.3,5.3],[0.4,0.4],[0.5,2.2],[0.6,-0.8],[0.7,1.4],[0.8,3.8],[0.9,-1.8],[1,0.6],[1.1,-3.5],[1.2,2.1],[1.3,-0.2],[1.4,6.3],[1.5,1.5],[1.6,3.3],[1.7,-1],[1.8,-2.6],[2,2],[2.1,1.2],[2.2,4.8],[2.3,-0.4],[2.4,5.3],[2.5,3],[2.6,-1.5],[2.8,1.7],[3,0.6],[3.3,1.5],[3.5,2.7],[3.6,-0.9],[4.1,4.1],[4.1,1.6],[4.1,0.1],[-0.5,-3.4],[0.3,-3.3],[-1.2,-3.6],[-3.2,-2.4],[-0.1,-1.7],[-2.3,-0.2]];
const pts27=[[-5.9,0.9],[-5.6,3.1],[-5.5,0.9],[-5.3,1.6],[-5.3,-0.7],[-4.8,4.5],[-4.9,0.6],[-4.6,-0.8],[-4.4,-1.3],[-4.2,3.4],[-4.1,-2.6],[-4,1.6],[-3.9,0.7],[-3.7,1.9],[-3.6,-0.3],[-3.4,2.8],[-3.3,-1.2],[-3.2,4.6],[-3.1,-3.1],[-3,2.7],[-2.9,0.5],[-2.8,0.7],[-2.7,-2.1],[-2.6,2.1],[-2.5,0.9],[-2.4,3.5],[-2.3,0.5],[-2.2,5.8],[-2.1,-0.4],[-2,2.8],[-1.9,5.4],[-1.8,2],[-1.7,-1],[-1.6,4.7],[-1.5,-3.1],[-1.5,1.4],[-1.4,6],[-1.3,0.8],[-1.2,-0.2],[-1.1,3.3],[-1,4.2],[-0.9,1.2],[-0.8,-2.5],[-0.7,2.2],[-0.6,-0.9],[-0.5,0.5],[-0.4,3.4],[-0.3,-1.7],[-0.2,4.7],[-0.1,-0.3],[0,2.6],[0.1,7.1],[0.2,4.4],[0.3,1.9],[0.4,-1.8],[0.5,0.6],[0.6,6.1],[0.7,2.6],[0.8,-3.4],[0.9,1.8],[1,-1.5],[1.1,3.2],[1.2,-3],[1.3,5.4],[1.4,0.8],[1.5,-3.2],[1.6,3.3],[1.7,-1.2],[1.8,1.8],[1.9,-0.4],[2,4.3],[2.1,-2.1],[2.2,-3.9],[2.3,0.9],[2.5,1.9],[2.7,0.7],[2.7,-2.9],[2.9,0.1],[3.2,3.5],[3.3,-0.2],[3.7,1.8],[4.1,-1.8],[4.3,-1.6],[4.4,2],[4.8,0.4],[1.7,-2.4],[1,-3.6],[0.6,-4.4],[0.8,-4.6],[1.2,-4.4],[-0.5,-0.5],[0.2,-2.3]];
const pts28=[[-2.8,-1.9],[-2.2,-0.2],[-1.7,-3.9],[-1.5,-3.9],[-1.5,-1.1],[-1.4,-0.9],[-1.4,-2.1],[-1.3,-2.6],[-1.3,-4.8],[-1.3,1.9],[-1,1.8],[-0.9,2.8],[-0.8,2],[-0.7,-0.6],[-0.6,1],[-0.4,-1.6],[-0.4,-5.4],[-0.3,-2.8],[-0.3,-3],[-0.2,1.4],[-0.1,3.5],[-0.1,-5],[0,-1.1],[0.1,2.4],[0.1,1],[0.2,3.3],[0.3,-2],[0.4,-3.4],[0.5,2.3],[0.6,-3.3],[0.7,-0.3],[0.8,3.3],[0.9,-2],[1,-3.3],[1.1,0.7],[1.2,-1.4],[1.3,2.8],[1.5,-2.2],[1.5,3.9],[1.6,-4.4],[1.7,-6.7],[1.7,1.5],[1.8,-3.5],[1.9,-0.9],[2,-2.3],[2.1,2.2],[2.2,-5.6],[2.3,-2.2],[2.4,1],[2.5,-3.7],[2.6,-0.3],[2.7,-1.3],[2.9,-2],[3,1.2],[3.2,-3.9],[3.3,-2.1],[3.4,-6.3],[3.5,0.2],[3.6,-2.4],[3.7,-5],[3.8,-1.5],[3.9,-0.3],[4.2,1.1],[4.2,3.9],[4.3,-1.9],[4.4,-2.6],[4.5,1.8],[4.7,-0.9],[4.8,-4.5],[5,-1.2],[5.3,-3.4],[5.5,0.1],[5.6,-2.6],[5.7,1],[5.6,-6.3],[6,-1.8],[6.3,-3.2],[6.4,0.1],[6.6,2.9],[7.2,-0.9],[7.4,-2.2],[-0.5,-2.1],[2.2,2.2],[0.5,0],[1.4,-1.7]];
const pts29=[[-4.1,0.9],[-3.7,2.3],[-3.2,0.4],[-3.1,3.2],[-3,1.2],[-2.9,-0.8],[-2.7,1.7],[-2.5,2.3],[-2.4,1.4],[-2.2,3.6],[-2.1,-2.1],[-2,2.2],[-1.9,-1.9],[-1.8,0.1],[-1.7,2.7],[-1.6,-3.6],[-1.5,-0.5],[-1.5,4.9],[-1.4,1.6],[-1.3,-2.4],[-1.2,3.3],[-1.1,-1.3],[-1,0.7],[-0.9,-3.4],[-0.8,2.4],[-0.7,-1],[-0.6,4.1],[-0.5,-2.2],[-0.4,1.1],[-0.3,-4.2],[-0.2,2.7],[-0.1,-0.5],[0,-1.8],[0.1,5.4],[0.2,-0.4],[0.3,3.3],[0.4,-3.2],[0.5,1.3],[0.6,-1.1],[0.7,2.4],[0.8,-0.1],[0.9,4.4],[1,-2.2],[1.1,1.3],[1.2,-3.1],[1.3,0.9],[1.4,3.2],[1.5,-1.2],[1.6,-2.8],[1.7,1.8],[1.8,-0.4],[1.9,4],[2,-3.7],[2.1,2.7],[2.2,-0.7],[2.3,-1.6],[2.4,1.5],[2.5,-3.1],[2.6,3.3],[2.7,0.3],[2.8,-0.8],[3,1.8],[3.1,-1.1],[3.3,-2.3],[3.5,0.9],[3.6,3.4],[3.9,-0.2],[4,3.2],[4.2,-1.1],[4.4,-0.1],[0.4,1.8],[0.8,1.2],[-0.5,-4.4],[-0.2,-4.3],[0.9,-3.6],[1.4,4.2],[2.3,5.3],[2.9,4.3],[-3.5,-1.5],[-1.9,-2.2]];
const pts30=[[-5.5,-2.1],[-5.5,-3.3],[-5.4,0.4],[-5.3,-1.05],[-4.8,-0.3],[-4.6,2],[-4.6,0.7],[-4.5,1.9],[-4.4,-1.5],[-4.4,-0.6],[-4.3,-2.4],[-4.3,-4],[-4.2,-3.8],[-4.1,0.2],[-4,-0.1],[-3.9,-1.4],[-3.8,-0.6],[-3.7,0.7],[-3.6,3.5],[-3.5,3.3],[-3.5,0.1],[-3.5,0],[-3.6,-2.3],[-3.5,-2.9],[-3.2,-1.8],[-3.2,-2.2],[-3.1,1.2],[-3.1,-4.7],[-3,-2],[-2.9,-0.9],[-2.9,-1.3],[-2.8,-4.4],[-2.8,0.5],[-2.8,-5.8],[-2.7,1.9],[-2.7,-1.1],[-2.7,-4.9],[-2.7,-5.4],[-2.6,-0.6],[-2.6,-1.8],[-2.5,-2.7],[-2.5,-3.7],[-2.3,-0.2],[-2.3,0.5],[-2.3,-2.9],[-2.2,-1.7],[-2.1,-2.5],[-2.1,2.5],[-2.1,2.3],[-2,-0.4],[-2,0.1],[-1.9,-0.4],[-1.8,1.1],[-1.7,-1.3],[-1.7,-4.5],[-1.6,-4.4],[-1.5,-2],[-1.5,-2.9],[-1.4,1],[-1.4,-0.3],[-1.4,-3.3],[-1.3,-2.3],[-1.2,4],[-1.2,3.8],[-1.2,-1.7],[-1.1,-0.6],[-1.1,-1.2],[-1,-1.1],[-0.9,-0.1],[-0.9,-3.1],[-0.9,-3.6],[-0.8,-1.8],[-0.8,1],[-0.8,2.8],[-0.8,-4.9],[-0.8,-5.7],[-0.7,1.8],[-0.7,-1.6],[-0.6,-2.6],[-0.5,-1],[-0.4,-2],[-0.4,0.3],[-0.4,-3.9],[-0.3,2.1],[-0.2,-0.3],[-0.2,-1.7],[-0.2,-2.9],[-0.2,-5.5],[-0.1,1.2],[-0.1,-5.1],[-0.05,-1.8],[0,0.9],[0,0.55],[0,-3.8],[0.05,-4.5],[0.1,-6],[0.1,-0.4],[0.2,1.5],[0.2,-1.3],[0.3,-2],[0.3,-4.7],[0.4,2.4],[0.4,-2.6],[0.5,0.3],[0.5,-3.4],[0.6,1.4],[0.6,-0.9],[0.7,2.3],[0.8,2.7],[0.8,-0.3],[0.8,-2.9],[0.8,-1.2],[1,-5.9],[1,-3.7],[1.1,-0.2],[1.1,-0.6],[1.3,0.6],[1.3,-1.6],[1.3,-2.6],[1.3,-4.4],[1.5,-1],[1.6,0.6],[1.6,-1.7],[1.8,1],[1.9,-3.2],[2,-4.8],[2.1,-1.7],[2.2,0.1],[2.2,-2.3],[2.2,-3.4],[2.4,2.5],[2.5,-0.7],[2.6,-1.5],[2.7,1.5],[2.7,-5],[2.8,-0.6],[2.9,1.6],[3.1,-0.2],[3.1,-0.4],[3.2,-0.8],[3.3,-2.8],[3.5,-3.5],[3.6,-2.9],[3.6,-2.2],[3.7,0.4],[4.4,-1.6],[4.5,-0.6]];
const pts31=[[-4.9,1.7],[-4.7,1.8],[-4.9,0.4],[-4.5,0.4],[-4.1,4.1],[-3.8,3],[-3.7,-0.3],[-3.4,2.8],[-3.2,5.2],[-3.2,0.8],[-3.1,-0.8],[-3,4.8],[-3,2.1],[-3,0.4],[-2.9,-0.2],[-2.8,3.6],[-2.6,-1.3],[-2.4,0.9],[-2.4,-2.1],[-2.3,0.5],[-2.2,2.5],[-2.1,2.1],[-2,-0.4],[-1.9,3.7],[-1.8,0.3],[-1.8,-1.7],[-1.7,5.4],[-1.6,1.3],[-1.5,-0.5],[-1.5,-1.2],[-1.4,2.6],[-1.3,0.9],[-1.2,4.6],[-1.1,3.2],[-1,3.4],[-0.9,-0.9],[-0.8,-1.6],[-0.8,-1.2],[-0.6,0.7],[-0.5,4.1],[-0.4,1.7],[-0.3,6],[-0.2,5.3],[-0.2,0.5],[-0.1,1.9],[-0.1,-3.1],[0.1,-4.8],[0.3,3.8],[0.4,0.9],[0.6,5.6],[0.9,2.4],[1,6.3],[1,0.5],[1,0.1],[1.1,3.6],[1.1,-3],[1.2,2.1],[1.3,1.4],[1.3,-0.8],[1.4,4.3],[1.4,-0.6],[1.4,-1.9],[1.6,2.8],[1.8,3.6],[1.8,0.5],[1.8,6.3],[2,3.2],[2.1,2.1],[2.2,4.9],[2.2,-2],[2.3,0.8],[2.4,2.2],[2.4,4.3],[2.5,-0.6],[2.5,-0.9],[2.6,2.8],[2.7,0.3],[2.7,-3.2],[2.9,2.3],[3.1,0.1],[3.2,2.5],[3.2,1.2],[3.3,-2.3],[3.4,2],[3.5,5.4],[3.5,-1],[3.6,4],[3.6,0.8],[3.7,2.9],[3.8,-0.1],[3.8,-1.9],[3.9,-1.3],[4,1],[4.1,0.4],[4.2,2.8],[4.3,2],[4.5,3.7],[4.6,-0.4],[4.7,2.1],[4.7,0.8],[4.9,-1.2],[5.6,3],[5.6,3.7],[5.7,1.2],[6,0],[6.6,1.7],[3.6,-3.4],[0,-2],[-1.3,-0.7],[2.8,1.1],[-2.2,-0.5]];
const pts32=[[-4.3,-0.3],[-4.2,-0.4],[-3.9,-2.5],[-3.5,-1.3],[-3.4,-3.8],[-3.1,1.5],[-3,-1.3],[-3,-2.3],[-3,-3.6],[-2.7,3.1],[-2.7,0.2],[-2.7,-5.3],[-2.5,-2.4],[-2.5,-2.7],[-2.3,-3.2],[-2.2,-2.7],[-2.2,-1.8],[-2.2,0.2],[-2.2,-4.1],[-2.1,-6.1],[-2,-1.6],[-1.8,-3.3],[-1.7,-2.3],[-1.6,-2.2],[-1.6,-1.3],[-1.5,-1.7],[-1.5,-0.6],[-1.5,-4.9],[-1.4,-3.1],[-1.4,-1.9],[-1.3,1.9],[-1.1,1.6],[-1.1,0.5],[-1.1,-0.6],[-1,-2.5],[-0.9,0.9],[-0.9,-0.3],[-0.9,-4.2],[-0.8,-2],[-0.8,-0.6],[-0.8,2.6],[-0.7,0.9],[-0.7,-3.9],[-0.7,-6],[-0.7,-6.4],[-0.6,1.9],[-0.5,-4.7],[-0.4,3],[-0.3,1],[-0.2,1.5],[-0.2,-3.1],[-0.2,-3.6],[-0.1,2.8],[-0.1,0.5],[-0.1,0],[0,-1.6],[0.05,2.2],[0.1,-2.1],[0.1,-0.7],[0.1,1.4],[0.2,-1.9],[0.2,1.8],[0.3,1.2],[0.3,-3.5],[0.4,-4.6],[0.5,1.6],[0.6,0],[0.6,-3.1],[0.6,-1.3],[0.6,-4.3],[0.6,-6.6],[0.8,2.8],[0.8,-6.3],[0.8,0.2],[0.9,1.3],[0.9,-2.1],[0.9,-6.1],[1,0.4],[1.1,-2],[1.1,-3.8],[1.1,-0.3],[1.1,-4.6],[1.2,0.9],[1.2,1.6],[1.2,-5.2],[1.2,-3.5],[1.3,-2.6],[1.4,2],[1.5,-4.4],[1.5,-6.4],[1.6,-7],[1.5,-4.8],[1.7,-2.9],[1.7,-2.2],[1.8,-1.6],[1.8,-5.1],[1.8,0.6],[1.9,-3],[2,-2.4],[2,-4],[2.2,-3.2],[2.2,-5.6],[2.2,-0.8],[2.3,-2.2],[2.4,-3.6],[2.6,-3.1],[2.6,1.3],[2.6,-7.1],[2.7,-3.8],[2.7,-5.4],[2.8,-2.3],[2.8,-3.3],[2.9,-6.5],[2.9,1.2],[3,-1.1],[3.1,-3],[3.2,-3.7],[3.2,-6.8],[3.3,-1.2],[3.4,-2.8],[3.4,0.1],[3.6,-2.4],[3.7,-0.8],[3.7,-5.2],[3.7,-4.1],[3.8,-4.5],[3.8,-5.6],[3.9,-1.3],[4.2,-5.5],[4.5,-2.7],[4.7,1.8],[4.7,-4.4],[5.1,-1.1],[5.2,-1],[5.5,-3.8],[5.7,-4],[0.2,1.7],[0.2,-0.7],[-0.5,-2]];
const allPoints=[pts1,pts2,pts3,pts4,pts5,pts6,pts7,pts8,pts9,pts10,pts11,pts12,pts13,pts14,pts15,pts16,pts17,pts18,pts19,pts20,pts21,pts22,pts23,pts24,pts25,pts26,pts27,pts28,pts29,pts30,pts31,pts32];

const NS="http://www.w3.org/2000/svg";
const svg=document.getElementById('fig');
const colLeft=[74,571,1071];
const rowTop=[54,555,1050,1551,2048,2549,3046,3547,4042,4544,5039];
const AW=409, AH=398;
function mk(tag,attrs,parent){const e=document.createElementNS(NS,tag);for(const k in attrs)e.setAttribute(k,attrs[k]);parent.appendChild(e);return e;}
function fmt(v,step){let s=(step%1!==0)?v.toFixed(1):String(Math.round(v));if(s.startsWith('-'))s='\u2212'+s.slice(1);if(s==='\u22120'||s==='\u22120.0')s=s.slice(1);return s;}
function ticks(d,step){const out=[];let t=Math.ceil(d[0]/step-1e-9)*step;for(;t<=d[1]+1e-9;t+=step)out.push(Math.round(t*1000)/1000);return out;}

for(let i=0;i<allPoints.length;i++){
  const L=colLeft[i%3], T=rowTop[Math.floor(i/3)];
  const xd=xDomains[i], yd=yDomains[i];
  const sx=v=>L+(v-xd[0])/(xd[1]-xd[0])*AW;
  const sy=v=>T+AH-(v-yd[0])/(yd[1]-yd[0])*AH;
  const g=mk('g',{},svg);
  
  
  const xt=ticks(xd,xTickSteps[i]), yt=ticks(yd,yTickSteps[i]);
  const grid=mk('g',{stroke:'#b0b0b0','stroke-width':'0.9'},g);
  
  
  xt.forEach(t=>{const x=sx(t);mk('line',{x1:x,x2:x,y1:T,y2:T+AH},grid);});
  yt.forEach(t=>{const y=sy(t);mk('line',{x1:L,x2:L+AW,y1:y,y2:y},grid);});
  const xa=mk('g',{},g);
  
  
  xt.forEach(t=>{const x=sx(t);mk('line',{x1:x,x2:x,y1:T+AH,y2:T+AH+4,stroke:'#000','stroke-width':'0.9'},xa);
    const tx=mk('text',{x:x,y:T+AH+19,'font-size':'12','text-anchor':'middle',fill:'#000'},xa);tx.textContent=fmt(t,xTickSteps[i]);
    
    });
  const ya=mk('g',{},g);
  
  
  let maxw=0;
  yt.forEach(t=>{const y=sy(t);mk('line',{x1:L-4,x2:L,y1:y,y2:y,stroke:'#000','stroke-width':'0.9'},ya);
    const s=fmt(t,yTickSteps[i]);maxw=Math.max(maxw,s.length*7.6);
    const tx=mk('text',{x:L-7,y:y+4.3,'font-size':'12','text-anchor':'end',fill:'#000'},ya);tx.textContent=s;
    
    });
  const pg=mk('g',{},g);
  
  
  allPoints[i].forEach(p=>{const c=mk('circle',{cx:sx(p[0]).toFixed(1),cy:sy(p[1]).toFixed(1),r:'4.4',fill:'#0000ff','fill-opacity':'0.6',stroke:'#000','stroke-opacity':'0.6','stroke-width':'0.8'},pg);
    
    });
  const fr=mk('rect',{x:L,y:T,width:AW,height:AH,fill:'none',stroke:'#000','stroke-width':'1'},g);
  
  
  const xl=mk('text',{x:L+AW/2,y:T+AH+41,'font-size':'12.5','text-anchor':'middle',fill:'#000'},g);xl.textContent='t-SNE Dimension 1';
  
  
  const yx=L-7-maxw-16;
  const yl=mk('text',{x:yx,y:T+AH/2,'font-size':'12.5','text-anchor':'middle',fill:'#000',transform:'rotate(-90 '+yx+' '+(T+AH/2)+')'},g);yl.textContent='t-SNE Dimension 2';
  
  
  const best=(i===bestIndex);
  const t1=mk('text',{x:L+AW/2,y:T-29,'font-size':'14.3','text-anchor':'middle',fill:best?'#ff0000':'#000','font-weight':best?'bold':'normal'},g);t1.textContent=titles[i];
  
  
  const t2=mk('text',{x:L+AW/2,y:T-9,'font-size':'14.3','text-anchor':'middle',fill:best?'#ff0000':'#000','font-weight':best?'bold':'normal'},g);t2.textContent='MSE: '+mses[i];
  
  
}
</script>
</body></html>
